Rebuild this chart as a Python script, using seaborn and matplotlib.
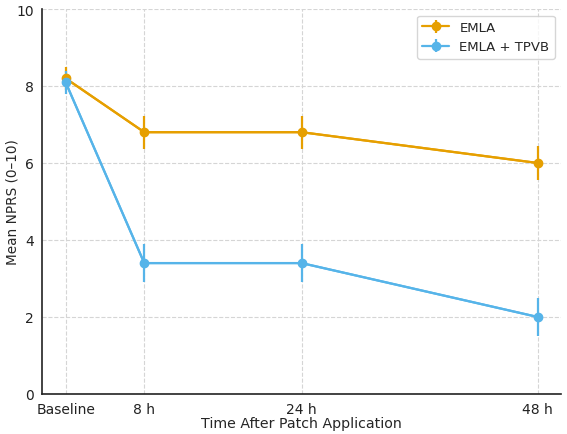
import matplotlib

matplotlib.use("Agg")
import matplotlib.pyplot as plt
import pandas as pd
import seaborn as sns

hours = [0, 8, 24, 48]
tick_labels = ["Baseline", "8 h", "24 h", "48 h"]
emla_mean = [8.2, 6.8, 6.8, 6.0]
emla_sd = [0.3, 0.43, 0.43, 0.43]
tpvb_mean = [8.1, 3.4, 3.4, 2.0]
tpvb_sd = [0.3, 0.5, 0.5, 0.5]

groups = ["EMLA", "EMLA + TPVB"]
colors = {"EMLA": "#E69F00", "EMLA + TPVB": "#56B4E9"}

df = pd.DataFrame(
    {
        "hours": hours * 2,
        "mean": emla_mean + tpvb_mean,
        "sd": emla_sd + tpvb_sd,
        "group": [groups[0]] * 4 + [groups[1]] * 4,
    }
)

sns.set_theme(style="whitegrid")
plt.rcParams["font.family"] = ["DejaVu Sans"]

fig, ax = plt.subplots(figsize=(5.67, 4.35), dpi=100)

sns.lineplot(
    data=df, x="hours", y="mean", hue="group", palette=colors,
    marker="o", markersize=6, markeredgewidth=0, linewidth=1.6,
    legend=False, ax=ax,
)
for g in groups:
    sub = df[df["group"] == g]
    ax.errorbar(
        sub["hours"], sub["mean"], yerr=sub["sd"], fmt="-o", color=colors[g],
        ms=6, lw=1.6, elinewidth=1.6, capsize=0, label=g, zorder=3,
    )

ax.set_xticks(hours)
ax.set_xticklabels(tick_labels)
ax.set_ylim(0, 10)
ax.set_yticks(range(0, 11, 2))
ax.set_xlabel("Time After Patch Application", fontsize=10.2)
ax.set_ylabel("Mean NPRS (0\u201310)", fontsize=9.8)
ax.tick_params(labelsize=10, colors="#222222", pad=0)
ax.grid(True, linestyle="--", color="#d5d5d5", linewidth=0.8)
for s in ["top", "right"]:
    ax.spines[s].set_visible(False)
for s in ["left", "bottom"]:
    ax.spines[s].set_color("#222222")
    ax.spines[s].set_linewidth(1.2)

ax.legend(loc="upper right", fontsize=9.5, frameon=True, edgecolor="#cccccc")

fig.subplots_adjust(left=0.074, right=0.99, top=0.977, bottom=0.092)
ax.yaxis.set_label_coords(-0.043, 0.5)
ax.xaxis.set_label_coords(0.5, -0.058)
fig.savefig("out.png", dpi=100)
